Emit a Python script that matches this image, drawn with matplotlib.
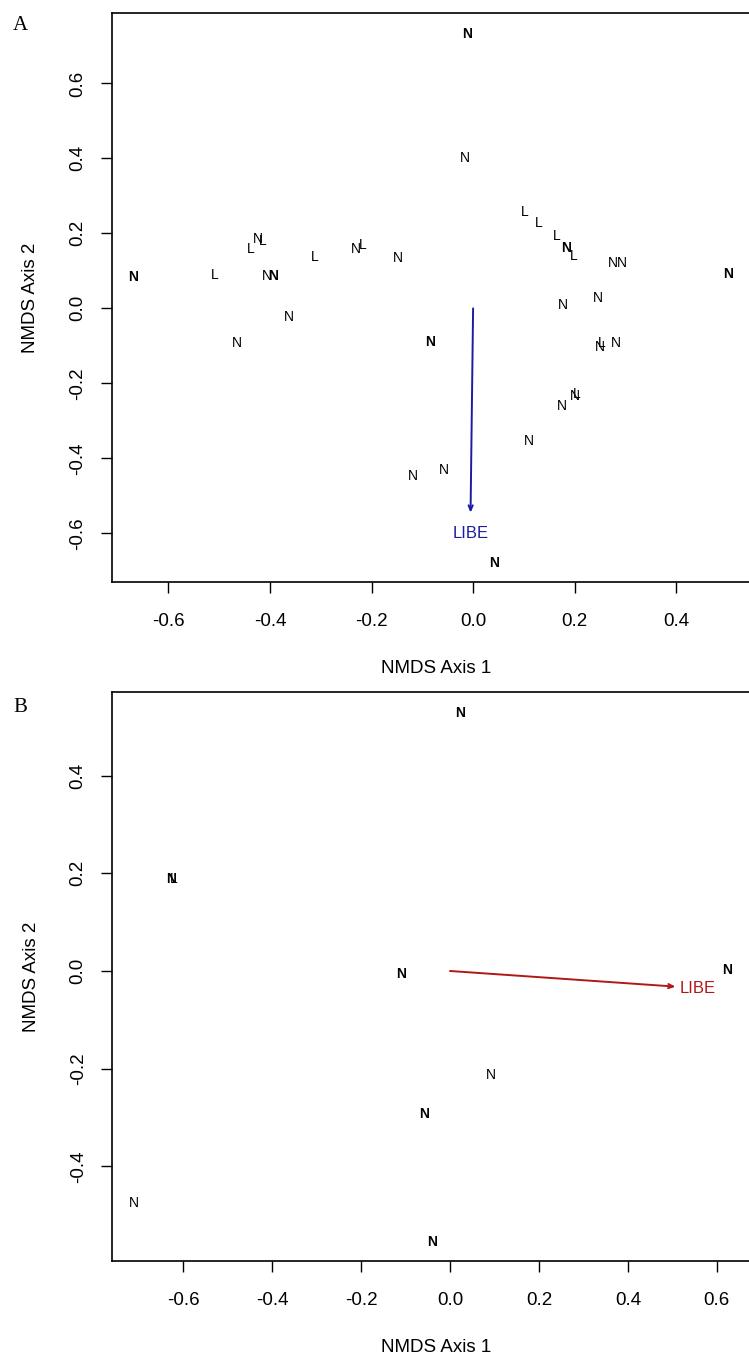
import numpy as np
import matplotlib.pyplot as plt

plt.rcParams['font.family'] = ['Liberation Sans', 'DejaVu Sans']

# panel A site scores (label, x, y, overlapped count)
a_lab = ['N', 'L', 'L', 'N', 'L', 'N', 'N', 'L', 'N', 'L', 'N', 'N', 'N', 'N',
         'N', 'N', 'L', 'L', 'L', 'N', 'L', 'N', 'N', 'N', 'N', 'N', 'N', 'L',
         'N', 'N', 'N', 'L', 'N', 'N', 'N', 'N']
a_x = [-0.669, -0.508, -0.438, -0.423, -0.415, -0.407, -0.394, -0.312, -0.231, -0.217,
       -0.149, -0.362, -0.465, -0.085, -0.012, -0.016, 0.102, 0.130, 0.165, 0.184,
       0.198, 0.276, 0.292, 0.501, 0.246, 0.177, 0.249, 0.253, 0.282, 0.175,
       0.200, 0.205, 0.110, -0.058, -0.119, 0.041]
a_y = [0.084, 0.089, 0.157, 0.184, 0.180, 0.086, 0.086, 0.138, 0.157, 0.169,
       0.135, -0.022, -0.093, -0.089, 0.731, 0.400, 0.258, 0.228, 0.193, 0.160,
       0.139, 0.122, 0.122, 0.091, 0.027, 0.009, -0.102, -0.092, -0.092, -0.261,
       -0.234, -0.228, -0.354, -0.431, -0.446, -0.678]
a_dup = [3, 1, 1, 1, 1, 1, 2, 1, 1, 1, 1, 1, 1, 2, 2, 1, 1, 1, 1, 2,
         1, 1, 1, 2, 1, 1, 1, 1, 1, 1, 1, 1, 1, 1, 1, 2]
a_vec = (-0.005, -0.545)

# panel B site scores
b_lab = ['N', 'N', 'L', 'N', 'N', 'N', 'N', 'N', 'N']
b_x = [0.023, -0.628, -0.620, -0.109, 0.623, 0.093, -0.058, -0.710, -0.040]
b_y = [0.528, 0.189, 0.189, -0.007, 0.003, -0.212, -0.292, -0.475, -0.555]
b_dup = [2, 2, 1, 2, 2, 1, 2, 1, 2]
b_vec = (0.507, -0.032)

fig = plt.figure(figsize=(7.49, 13.57), dpi=100)


def panel(rect, xs, ys, labs, dups, vec, vcol, xlim, ylim, xt, yt):
    ax = fig.add_axes(rect)
    for lab, x, y, d in zip(labs, xs, ys, dups):
        ax.text(x, y, lab, ha='center', va='center', fontsize=10,
                fontweight='bold' if d > 1 else 'normal', color='black')
    ax.annotate('', xy=vec, xytext=(0, 0),
                arrowprops=dict(arrowstyle='->,head_length=0.35,head_width=0.15',
                                color=vcol, lw=1.4, shrinkA=0, shrinkB=0))
    ax.text(vec[0] * 1.1, vec[1] * 1.1, 'LIBE', color=vcol, fontsize=12,
            ha='center', va='center')
    ax.set_xlim(*xlim)
    ax.set_ylim(*ylim)
    ax.set_xticks(xt)
    ax.set_yticks(yt)
    ax.set_xticklabels(['%.1f' % v for v in xt])
    ax.set_yticklabels(['%.1f' % v for v in yt], rotation=90, va='center')
    ax.tick_params(direction='out', length=8, width=1, labelsize=13.5)
    ax.tick_params(axis='x', pad=14)
    ax.tick_params(axis='y', pad=10.5)
    for s in ax.spines.values():
        s.set_linewidth(1.2)
    ax.set_xlabel('NMDS Axis 1', fontsize=13.5, labelpad=22)
    ax.set_ylabel('NMDS Axis 2', fontsize=13.5, labelpad=21.5)
    return ax


panel([0.1495, 0.5711, 0.8646, 0.4191], a_x, a_y, a_lab, a_dup, a_vec, '#1c1ca0',
      (-0.711, 0.564), (-0.730, 0.787),
      [-0.6, -0.4, -0.2, 0.0, 0.2, 0.4], [-0.6, -0.4, -0.2, 0.0, 0.2, 0.4, 0.6])
panel([0.1501, 0.0707, 0.8646, 0.4196], b_x, b_y, b_lab, b_dup, b_vec, '#b01818',
      (-0.759, 0.697), (-0.594, 0.572),
      [-0.6, -0.4, -0.2, 0.0, 0.2, 0.4, 0.6], [-0.4, -0.2, 0.0, 0.2, 0.4])

fig.text(20 / 749, 1 - 25 / 1357, 'A', family='Liberation Serif', fontsize=15,
         ha='center', va='center')
fig.text(20 / 749, 1 - 708 / 1357, 'B', family='Liberation Serif', fontsize=15,
         ha='center', va='center')

fig.savefig('out.png', dpi=100)
